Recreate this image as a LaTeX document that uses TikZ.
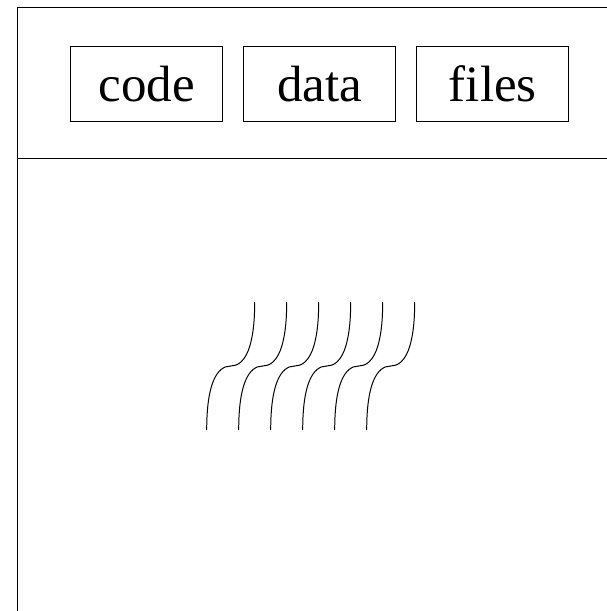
\documentclass[tikz,border=0pt]{standalone}
\usepackage{fontspec}
\setmainfont{Liberation Serif}
\begin{document}
\begin{tikzpicture}[x=1pt,y=-1pt,line width=0.9pt,
  seg/.style={draw,rectangle,minimum width=152pt,minimum height=75pt,inner sep=0pt,
    text height=36.4pt,text depth=0pt,font=\fontsize{51}{60}\selectfont},
  thread/.style={line width=1pt}]
\useasboundingbox (0,0) rectangle (607,611);
% process frame
\coordinate (tl) at (17.7,7.3);
\coordinate (tr) at (607,7.3);
\coordinate (bl) at (17.7,611);
\coordinate (ml) at (17.7,158);
\coordinate (mr) at (607,158);
\draw (tr) -- (tl) -- (bl);
\draw (ml) -- (mr);
% segments
\node[seg] (code) at (146.7,83.5) {code};
\node[seg] (data) at (319.5,83.5) {data};
\node[seg] (files) at (492.8,83.5) {files};
% threads
\foreach \i in {0,...,5}{
  \pgfmathsetmacro{\xt}{254.7+32*\i}
  \pgfmathsetmacro{\xm}{230.7+32*\i}
  \pgfmathsetmacro{\xb}{206.7+32*\i}
  \coordinate (t\i) at (\xt,302);
  \coordinate (m\i) at (\xm,366);
  \coordinate (b\i) at (\xb,430);
  \draw[thread] (t\i) .. controls (\xt,348) and (\xm+14,366) .. (m\i)
                      .. controls (\xm-14,366) and (\xb,384) .. (b\i);
}
\end{tikzpicture}
\end{document}
